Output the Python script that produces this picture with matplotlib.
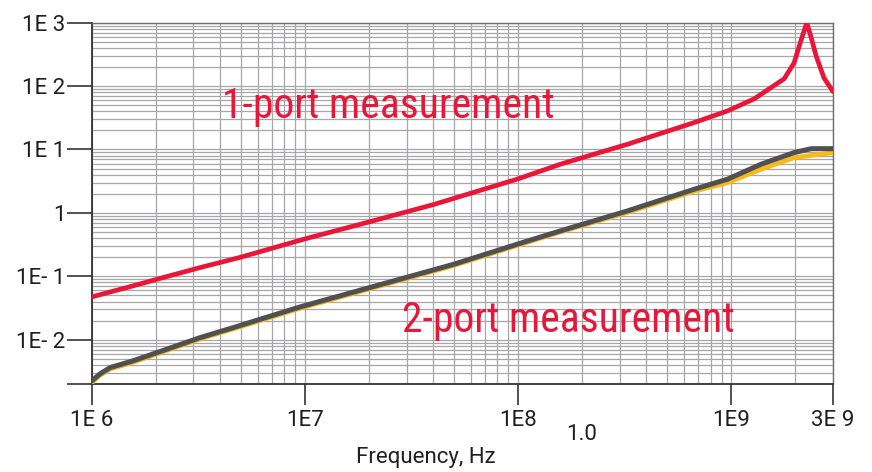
import matplotlib
matplotlib.use("Agg")
import matplotlib.pyplot as plt
from matplotlib.ticker import LogLocator, NullFormatter

plt.rcParams['font.family'] = ['Roboto', 'DejaVu Sans']
BIG_FONT = ['Roboto Condensed', 'DejaVu Sans']

# 1-port measurement (red)
f_red = [1e6, 1.5e6, 2.2e6, 3.3e6, 5e6, 1e7, 2e7, 4e7, 1e8, 1.58e8, 3.26e8, 6.7e8, 9.6e8,
         1.28e9, 1.58e9, 1.77e9, 1.97e9, 2.12e9, 2.26e9, 2.37e9, 2.5e9, 2.72e9, 3e9]
v_red = [0.0473, 0.068, 0.097, 0.14, 0.2, 0.389, 0.72, 1.35, 3.44, 5.86, 12.1, 26.6, 40.6,
         62.8, 101, 130, 232, 516, 1000, 582, 299, 135, 81.9]

# 2-port measurement (dark gray)
f_gray = [1e6, 1.094e6, 1.22e6, 1.56e6, 2.25e6, 3.23e6, 4.61e6, 9.5e6, 2e7, 5e7, 1e8,
          1.58e8, 3.26e8, 6.7e8, 9.6e8, 1.38e9, 1.97e9, 2.37e9, 3e9]
v_gray = [2.24e-3, 2.89e-3, 3.63e-3, 4.63e-3, 7.08e-3, 0.0108, 0.0155, 0.0329, 0.066,
          0.155, 0.324, 0.52, 1.075, 2.36, 3.4, 5.86, 8.93, 10.3, 10.3]

# 2-port measurement, second trace (yellow)
f_yel = [1e6, 1.094e6, 1.22e6, 1.56e6, 2.25e6, 3.23e6, 4.61e6, 9.5e6, 2e7, 5e7, 1e8,
         1.58e8, 3.26e8, 6.7e8, 9.6e8, 1.38e9, 1.97e9, 3e9]
v_yel = [2.1e-3, 2.75e-3, 3.45e-3, 4.4e-3, 6.75e-3, 0.0103, 0.0148, 0.0314, 0.063,
         0.148, 0.31, 0.5, 1.02, 2.2, 3.0, 4.89, 7.45, 8.93]

xtick_vals = [1e6, 1e7, 1e8, 1e9, 3e9]
xtick_labels = ["1E 6", "1E7", "1E8", "1E9", "3E 9"]
ytick_vals = [2e-3, 1e-2, 1e-1, 1, 1e1, 1e2, 1e3]
ytick_labels = ["", "1E- 2", "1E- 1", "1", "1E 1", "1E 2", "1E 3"]

RED = "#E8173A"
GRAY = "#505052"
YEL = "#F9B916"
TXT = "#231F20"

fig = plt.figure(figsize=(8.72, 4.72), dpi=100)
ax = fig.add_axes([91.7/872, 1 - 384/472, (833 - 91.7)/872, (384 - 22.7)/472])

ax.set_xscale('log')
ax.set_yscale('log')
ax.set_xlim(1e6, 3e9)
ax.set_ylim(2e-3, 1e3)

ax.xaxis.set_minor_locator(LogLocator(base=10, subs=range(2, 10), numticks=50))
ax.yaxis.set_minor_locator(LogLocator(base=10, subs=range(2, 10), numticks=50))
ax.xaxis.set_minor_formatter(NullFormatter())
ax.yaxis.set_minor_formatter(NullFormatter())
ax.grid(True, which='both', color='#A7A7A9', lw=0.9)
ax.set_axisbelow(True)

ax.plot(f_yel, v_yel, color=YEL, lw=3.4, solid_capstyle='round', zorder=3)
ax.plot(f_gray, v_gray, color=GRAY, lw=3.6, solid_capstyle='round', zorder=4)
ax.plot(f_red, v_red, color=RED, lw=3.4, solid_capstyle='round', zorder=5)

ax.set_xticks(xtick_vals)
ax.set_xticklabels(xtick_labels)
ax.set_yticks(ytick_vals)
ax.set_yticklabels(ytick_labels)
ax.tick_params(axis='both', which='minor', length=0)
ax.tick_params(axis='y', which='major', length=18, width=1.2, color='#333333', pad=1,
               labelsize=16, labelcolor=TXT)
ax.tick_params(axis='x', which='major', length=15, width=1.2, color='#333333', pad=4,
               labelsize=16, labelcolor=TXT)

for s in ['left', 'bottom']:
    ax.spines[s].set_color('#333333')
    ax.spines[s].set_linewidth(1.3)
for s in ['top', 'right']:
    ax.spines[s].set_color('#6E6E70')
    ax.spines[s].set_linewidth(1.0)

ax.text(0.1754, 0.7354, "1-port measurement", transform=ax.transAxes, color=RED,
        fontsize=30, va='baseline', ha='left', family=BIG_FONT)
ax.text(0.4182, 0.1448, "2-port measurement", transform=ax.transAxes, color=RED,
        fontsize=30, va='baseline', ha='left', family=BIG_FONT)

fig.text(581.7/872, 1 - 440/472, "1.0", ha='center', va='baseline', fontsize=16, color=TXT)
fig.text(425.5/872, 1 - 463.3/472, "Frequency, Hz", ha='center', va='baseline', fontsize=16, color=TXT)

fig.savefig("out.png", dpi=100)
